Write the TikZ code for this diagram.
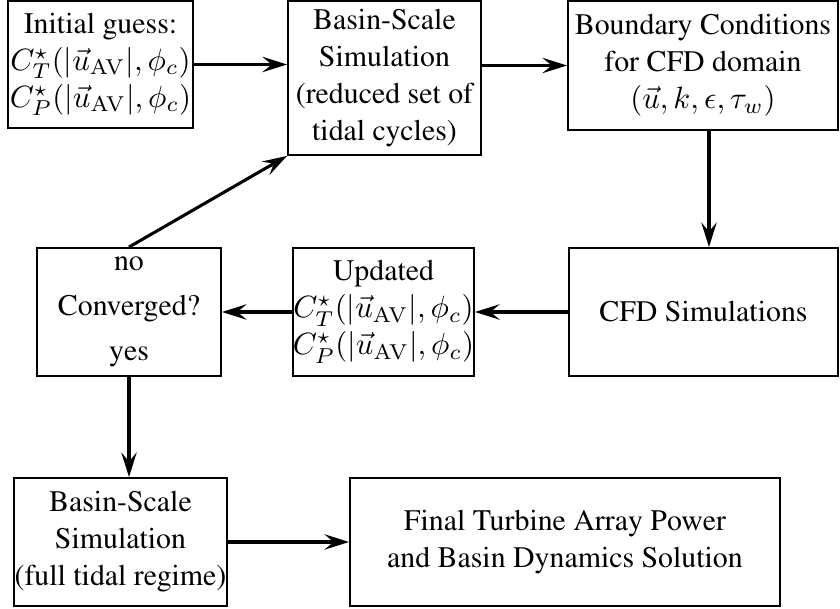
\documentclass[tikz,border=0pt]{standalone}
\usepackage[T1]{fontenc}
\renewcommand{\rmdefault}{ptm}
\usetikzlibrary{arrows.meta}
\begin{document}
\begin{tikzpicture}[x=0.325pt,y=-0.325pt,
  box/.style={draw,line width=0.6pt,inner sep=0pt,align=center,
    font=\fontsize{9.7}{12}\selectfont},
  flow/.style={line width=1pt,-{Stealth[length=8pt,width=5pt,inset=3pt]}}]
\useasboundingbox (0,0) rectangle (840,609);

% boxes, placed by centre with fixed sizes
\node[box,minimum width=185*0.325pt,minimum height=127*0.325pt] (init) at (100.5,64.5)
  {Initial guess:\\$C_T^\star(|\vec{u}_\mathrm{AV}|,\phi_c)$\\$C_P^\star(|\vec{u}_\mathrm{AV}|,\phi_c)$};
\node[box,minimum width=193*0.325pt,minimum height=154*0.325pt] (bred) at (384.5,78)
  {Basin-Scale\\Simulation\\(reduced set of\\tidal cycles)};
\node[box,minimum width=270*0.325pt,minimum height=129*0.325pt] (bc) at (703,65.5)
  {Boundary Conditions\\for CFD domain\\$(\vec{u},k,\epsilon,\tau_w)$};
\node[box,minimum width=184*0.325pt,minimum height=128*0.325pt] (conv) at (129,312)
  {no\\[2.5pt]Converged?\\[2.5pt]yes};
\node[box,minimum width=175*0.325pt,minimum height=128*0.325pt] (upd) at (383.5,312)
  {Updated\\$C_T^\star(|\vec{u}_\mathrm{AV}|,\phi_c)$\\$C_P^\star(|\vec{u}_\mathrm{AV}|,\phi_c)$};
\node[box,minimum width=269*0.325pt,minimum height=128*0.325pt] (cfd) at (703.5,312)
  {CFD Simulations};
\node[box,minimum width=213*0.325pt,minimum height=128*0.325pt] (bfull) at (120.5,542)
  {Basin-Scale\\Simulation\\(full tidal regime)};
\node[box,minimum width=430*0.325pt,minimum height=128*0.325pt] (final) at (565,542)
  {Final Turbine Array Power\\and Basin Dynamics Solution};

% connectors
\coordinate (bcout) at (709,130);
\draw[flow] (init.east) -- (init.east -| bred.west);
\draw[flow] (bred.east |- bc.west) -- (bc.west);
\draw[flow] (bc.south -| bcout) -- (bcout |- cfd.north);
\draw[flow] (cfd.west) -- (upd.east);
\draw[flow] (upd.west) -- (conv.east);
\draw[flow] (conv.north) -- (bred.south west);
\draw[flow] (conv.south) -- (conv.south |- bfull.north);
\draw[flow] (bfull.east) -- (final.west);
\end{tikzpicture}
\end{document}
